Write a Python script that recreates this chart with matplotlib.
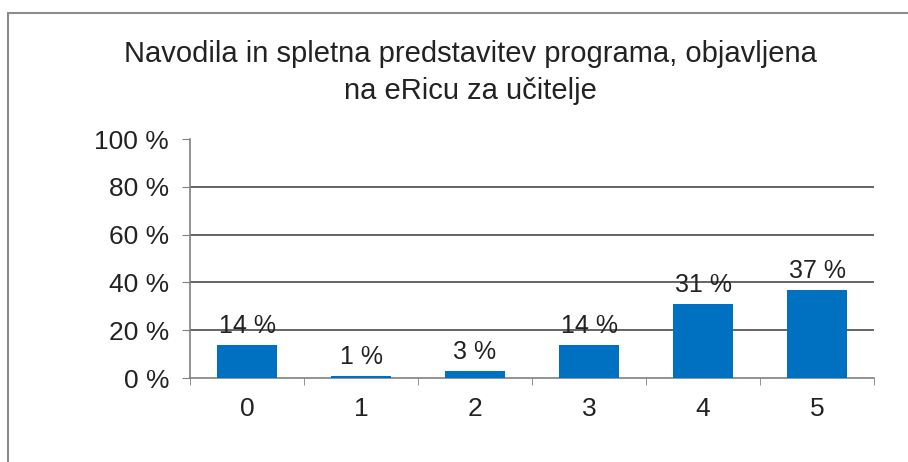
import matplotlib.pyplot as plt
from matplotlib.patches import Rectangle
from matplotlib.ticker import FixedLocator, NullFormatter

plt.rcParams['font.family'] = ['Liberation Sans', 'DejaVu Sans']

categories = ['0', '1', '2', '3', '4', '5']
values = [14, 1, 3, 14, 31, 37]
value_labels = ['14 %', '1 %', '3 %', '14 %', '31 %', '37 %']
y_ticks = [0, 20, 40, 60, 80, 100]
title = 'Navodila in spletna predstavitev programa, objavljena\nna eRicu za učitelje'

fig = plt.figure(figsize=(9.08, 4.62), dpi=100)
ax = fig.add_axes([0.2093, 0.1818, 0.7533, 0.5172])

# frame around the whole chart (cut off right and bottom)
fig.patches.append(Rectangle((8 / 908, -0.1), 1.2, 1 - 13 / 462 + 0.1,
                             transform=fig.transFigure, fill=False,
                             edgecolor='#8c8c8c', linewidth=1.5))

x = list(range(len(categories)))
ax.bar(x, values, width=0.52, color='#0070C0', zorder=3)

for xi, v, lab in zip(x, values, value_labels):
    ax.annotate(lab, (xi, v), xytext=(0, 5), textcoords='offset points',
                ha='center', va='bottom', fontsize=18, color='#222222')

for g in y_ticks[1:-1]:
    ax.axhline(g, color='#3a3a3a', linewidth=1.1, zorder=1)

ax.set_xlim(-0.5, len(categories) - 0.5)
ax.set_ylim(0, 100)
ax.set_yticks(y_ticks)
ax.set_yticklabels([f'{t} %' for t in y_ticks], fontsize=19, color='#222222')

ax.set_xticks(x)
ax.set_xticklabels(categories, fontsize=19, color='#222222')
ax.tick_params(axis='x', which='major', length=0, pad=14)
ax.xaxis.set_minor_locator(FixedLocator([i - 0.5 for i in range(len(categories) + 1)]))
ax.xaxis.set_minor_formatter(NullFormatter())
ax.tick_params(axis='x', which='minor', length=5, color='#808080', direction='out')
ax.tick_params(axis='y', length=6, color='#808080', direction='out', pad=9)

for s in ['top', 'right']:
    ax.spines[s].set_visible(False)
for s in ['left', 'bottom']:
    ax.spines[s].set_color('#808080')
    ax.spines[s].set_linewidth(1.2)

fig.text(0.5176, 0.843, title, ha='center', va='center', fontsize=21,
         color='#222222', linespacing=1.38)

fig.savefig('out.png', dpi=100)
